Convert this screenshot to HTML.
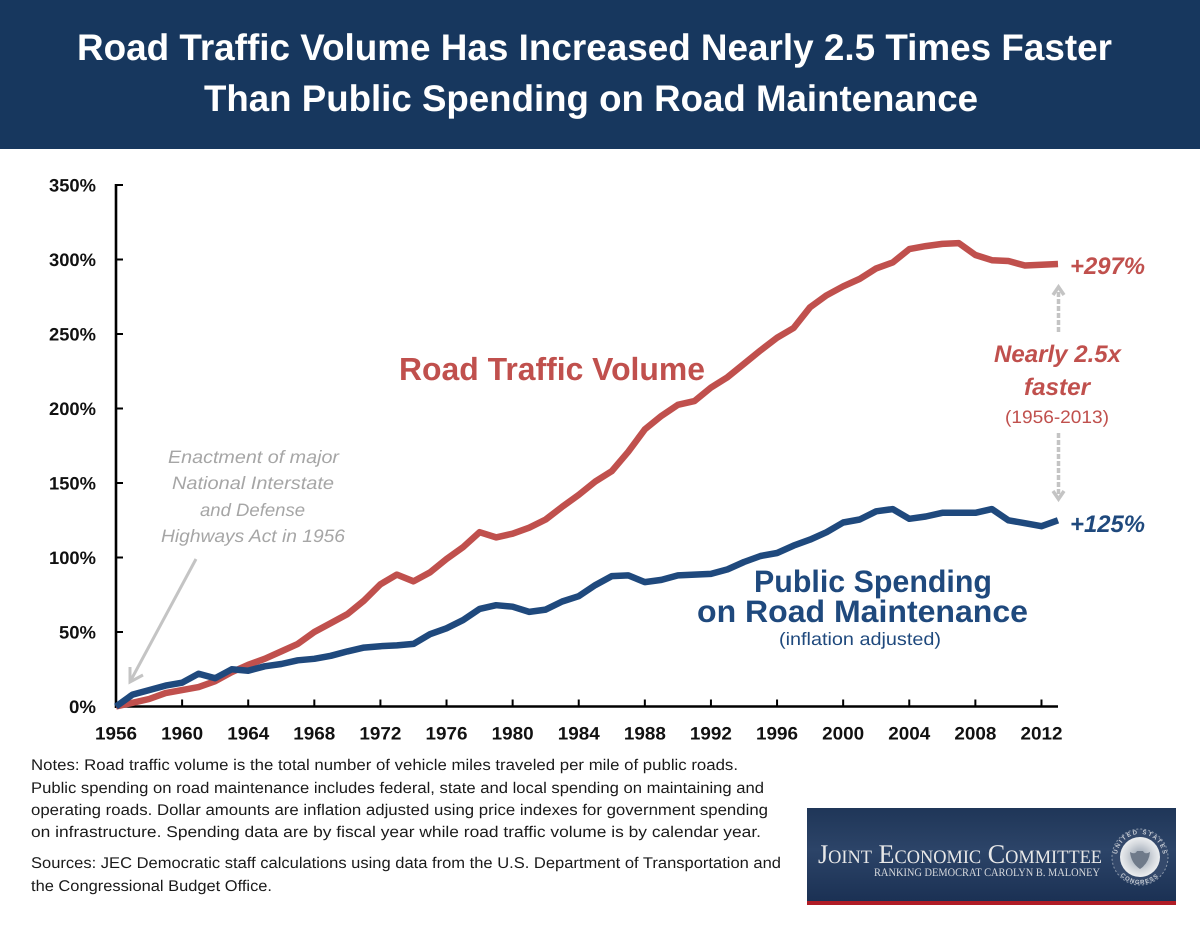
<!DOCTYPE html>
<html lang="en">
<head>
<meta charset="utf-8">
<title>Road Traffic Volume vs Public Spending on Road Maintenance</title>
<style>
html,body{margin:0;padding:0;background:#fff;width:1200px;height:927px;overflow:hidden}
svg{display:block}
text{font-family:"Liberation Sans",sans-serif;text-rendering:geometricPrecision}
.note{font-size:15.5px;fill:#1a1a1a}
.tick-label{font-size:18px;font-weight:700;fill:#111}
</style>
</head>
<body>
<svg id="chart" xmlns="http://www.w3.org/2000/svg" width="1200" height="927" viewBox="0 0 1200 927">
  <defs>
    <linearGradient id="logoGrad" x1="0" y1="0" x2="0" y2="1">
      <stop offset="0" stop-color="#1f3658"/>
      <stop offset="0.45" stop-color="#2c4468"/>
      <stop offset="1" stop-color="#1b3154"/>
    </linearGradient>
    <radialGradient id="sealGrad" cx="0.5" cy="0.5" r="0.5">
      <stop offset="0" stop-color="#8f9bab"/>
      <stop offset="0.7" stop-color="#d5d9de"/>
      <stop offset="1" stop-color="#eceef0"/>
    </radialGradient>
    <path id="sealTopArc" d="M1117 857 A23 23 0 0 1 1163 857"/>
    <path id="sealBottomArc" d="M1113 857 A27 27 0 0 0 1167 857"/>
  </defs>
  <rect x="0" y="0" width="1200" height="927" fill="#ffffff"/>
  <rect x="0" y="0" width="1200" height="149" fill="#17375e"/>
  <text x="77" y="60" font-size="37" font-weight="700" fill="#fff" textLength="1035" lengthAdjust="spacingAndGlyphs">Road Traffic Volume Has Increased Nearly 2.5 Times Faster</text>
  <text x="204" y="111" font-size="37" font-weight="700" fill="#fff" textLength="774" lengthAdjust="spacingAndGlyphs">Than Public Spending on Road Maintenance</text>

  <g id="axes"></g>
  <g id="series"></g>

  <text x="399" y="380" font-size="32" font-weight="700" fill="#c0504d" textLength="306" lengthAdjust="spacingAndGlyphs">Road Traffic Volume</text>
  <text x="754" y="592" font-size="31" font-weight="700" fill="#1f497d" textLength="238" lengthAdjust="spacingAndGlyphs">Public Spending</text>
  <text x="697" y="622" font-size="31" font-weight="700" fill="#1f497d" textLength="331" lengthAdjust="spacingAndGlyphs">on Road Maintenance</text>
  <text x="779" y="645" font-size="18" fill="#1f497d" textLength="162" lengthAdjust="spacingAndGlyphs">(inflation adjusted)</text>

  <g font-size="18" font-style="italic" fill="#a6a6a6">
    <text x="168" y="463" textLength="171" lengthAdjust="spacingAndGlyphs">Enactment of major</text>
    <text x="172" y="489" textLength="162" lengthAdjust="spacingAndGlyphs">National Interstate</text>
    <text x="200" y="516" textLength="105" lengthAdjust="spacingAndGlyphs">and Defense</text>
    <text x="161" y="542" textLength="184" lengthAdjust="spacingAndGlyphs">Highways Act in 1956</text>
  </g>
  <g fill="none" stroke="#c4c4c4" stroke-width="3">
    <line x1="196" y1="559" x2="131" y2="680"/>
    <polyline points="130,667 130,682 143,675"/>
  </g>

  <text x="1070" y="274" font-size="24" font-weight="700" font-style="italic" fill="#c0504d" textLength="75" lengthAdjust="spacingAndGlyphs">+297%</text>
  <text x="1070" y="532" font-size="24" font-weight="700" font-style="italic" fill="#1f497d" textLength="75" lengthAdjust="spacingAndGlyphs">+125%</text>
  <text x="994" y="362" font-size="24" font-weight="700" font-style="italic" fill="#c0504d" textLength="127" lengthAdjust="spacingAndGlyphs">Nearly 2.5x</text>
  <text x="1024" y="395" font-size="24" font-weight="700" font-style="italic" fill="#c0504d" textLength="66" lengthAdjust="spacingAndGlyphs">faster</text>
  <text x="1005" y="423" font-size="18" fill="#c0504d" textLength="104" lengthAdjust="spacingAndGlyphs">(1956-2013)</text>

  <g fill="none" stroke="#c4c4c4" stroke-width="3.5">
    <line x1="1058.5" y1="332" x2="1058.5" y2="289" stroke-dasharray="5 2"/>
    <polyline points="1053,295 1058.5,287 1064,295"/>
  </g>
  <g fill="none" stroke="#c4c4c4" stroke-width="3.5">
    <line x1="1058.5" y1="433" x2="1058.5" y2="497" stroke-dasharray="5 2"/>
    <polyline points="1053,491 1058.5,499 1064,491"/>
  </g>

  <g>
    <text class="note" x="31" y="770" textLength="707" lengthAdjust="spacingAndGlyphs">Notes: Road traffic volume is the total number of vehicle miles traveled per mile of public roads.</text>
    <text class="note" x="31" y="793" textLength="733" lengthAdjust="spacingAndGlyphs">Public spending on road maintenance includes federal, state and local spending on maintaining and</text>
    <text class="note" x="31" y="815" textLength="737" lengthAdjust="spacingAndGlyphs">operating roads. Dollar amounts are inflation adjusted using price indexes for government spending</text>
    <text class="note" x="31" y="837" textLength="730" lengthAdjust="spacingAndGlyphs">on infrastructure. Spending data are by fiscal year while road traffic volume is by calendar year.</text>
  </g>
  <g>
    <text class="note" x="31" y="868" textLength="750" lengthAdjust="spacingAndGlyphs">Sources: JEC Democratic staff calculations using data from the U.S. Department of Transportation and</text>
    <text class="note" x="31" y="891" textLength="241" lengthAdjust="spacingAndGlyphs">the Congressional Budget Office.</text>
  </g>

  <g>
    <rect x="807" y="808" width="369" height="93" fill="url(#logoGrad)"/>
    <rect x="807" y="901" width="369" height="4" fill="#b01c26"/>
    <text x="818" y="863" font-size="27" fill="#e8e8e8" style="font-family:'Liberation Serif',serif;font-variant:small-caps" textLength="284" lengthAdjust="spacingAndGlyphs">Joint Economic Committee</text>
    <text x="874" y="876" font-size="11.5" fill="#d5d8dc" style="font-family:'Liberation Serif',serif" textLength="226" lengthAdjust="spacingAndGlyphs">RANKING DEMOCRAT CAROLYN B. MALONEY</text>
    <circle cx="1140" cy="857" r="28" fill="#34496b" stroke="#8b98aa" stroke-width="1" stroke-dasharray="2 2"/>
    <text font-size="6" font-weight="700" fill="#c9ced6"><textPath href="#sealTopArc" startOffset="4%" textLength="66">UNITED STATES</textPath></text>
    <text font-size="6" font-weight="700" fill="#c9ced6"><textPath href="#sealBottomArc" startOffset="24%" textLength="42">CONGRESS</textPath></text>
    <circle cx="1140" cy="857" r="20" fill="url(#sealGrad)"/>
    <path d="M1130 852 Q1135 855 1137 851 L1143 851 Q1145 855 1150 852 Q1149 863 1140 869 Q1131 863 1130 852Z" fill="#6f7a8a"/>
  </g>
</svg>

<script>
const years = [1956,1957,1958,1959,1960,1961,1962,1963,1964,1965,1966,1967,1968,1969,1970,1971,1972,1973,1974,1975,1976,1977,1978,1979,1980,1981,1982,1983,1984,1985,1986,1987,1988,1989,1990,1991,1992,1993,1994,1995,1996,1997,1998,1999,2000,2001,2002,2003,2004,2005,2006,2007,2008,2009,2010,2011,2012,2013];
const trafficValues = [0,2.5,5,9,11,13,17,23,28,32,37,42,50,56,62,71,82,88.5,84,90,99,107,117,113.5,116,120,125.5,134,142,151,158,171,186,195,202.5,205,214,221,230,239,247.5,254,268,276,282,287,294,298,307,309,310.5,311,303,299.5,299,296,296.5,297];
const spendingValues = [0,8,11,14,16,22,19,25,24,27,28.5,31,32,34,37,39.5,40.5,41,42,48.5,52.5,58,65.5,68,67,63.5,65,70.5,74,81.5,87.5,88,83.5,85,88,88.5,89,92,97,101,103,108,112,117,123.5,125.5,131,132.5,126,127.5,130,130,130,132.5,125,123,121,125];
const yTickValues = [0,50,100,150,200,250,300,350];
const xTickYears = [1956,1960,1964,1968,1972,1976,1980,1984,1988,1992,1996,2000,2004,2008,2012];

const NS = 'http://www.w3.org/2000/svg';
function xScale(year) { return 116 + (year - 1956) * (1058 - 116) / 57; }
function yScale(v) { return 706.5 - v * (706.5 - 185) / 350; }
function make(tag, attrs) {
  const el = document.createElementNS(NS, tag);
  for (const k in attrs) el.setAttribute(k, attrs[k]);
  return el;
}
const axes = document.getElementById('axes');
const series = document.getElementById('series');

const yAxisLine = make('line', {x1: xScale(1956), y1: yScale(350) - 1, x2: xScale(1956), y2: yScale(0) + 1.5, stroke: '#000', 'stroke-width': 2.6});


axes.appendChild(yAxisLine);

const xAxisLine = make('line', {x1: xScale(1956) - 1, y1: yScale(0), x2: xScale(2013), y2: yScale(0), stroke: '#000', 'stroke-width': 2.6});


axes.appendChild(xAxisLine);

yTickValues.forEach(function (v) {
  const tick = make('line', {x1: xScale(1956), y1: yScale(v), x2: xScale(1956) + 7, y2: yScale(v), stroke: '#000', 'stroke-width': 2});
  
  
  axes.appendChild(tick);
  const labelText = v + '%';
  const label = make('text', {x: 96, y: yScale(v) + 6.5, 'text-anchor': 'end', class: 'tick-label', textLength: 17 + (labelText.length - 2) * 10 + 10, lengthAdjust: 'spacingAndGlyphs'});
  
  
  label.textContent = labelText;
  axes.appendChild(label);
});

xTickYears.forEach(function (yr) {
  const tick = make('line', {x1: xScale(yr), y1: yScale(0), x2: xScale(yr), y2: yScale(0) - 7, stroke: '#000', 'stroke-width': 2});
  
  
  axes.appendChild(tick);
  const label = make('text', {x: xScale(yr) - 21, y: 739.5, class: 'tick-label', textLength: 42, lengthAdjust: 'spacingAndGlyphs'});
  
  
  label.textContent = yr;
  axes.appendChild(label);
});

function pointsFor(vals) {
  return vals.map(function (v, i) { return xScale(years[i]).toFixed(1) + ',' + yScale(v).toFixed(1); }).join(' ');
}
const trafficLine = make('polyline', {points: pointsFor(trafficValues), fill: 'none', stroke: '#c0504d', 'stroke-width': 6.5, 'stroke-linejoin': 'round'});


series.appendChild(trafficLine);

const spendingLine = make('polyline', {points: pointsFor(spendingValues), fill: 'none', stroke: '#1f497d', 'stroke-width': 6.5, 'stroke-linejoin': 'round'});


series.appendChild(spendingLine);
</script>
</body>
</html>
